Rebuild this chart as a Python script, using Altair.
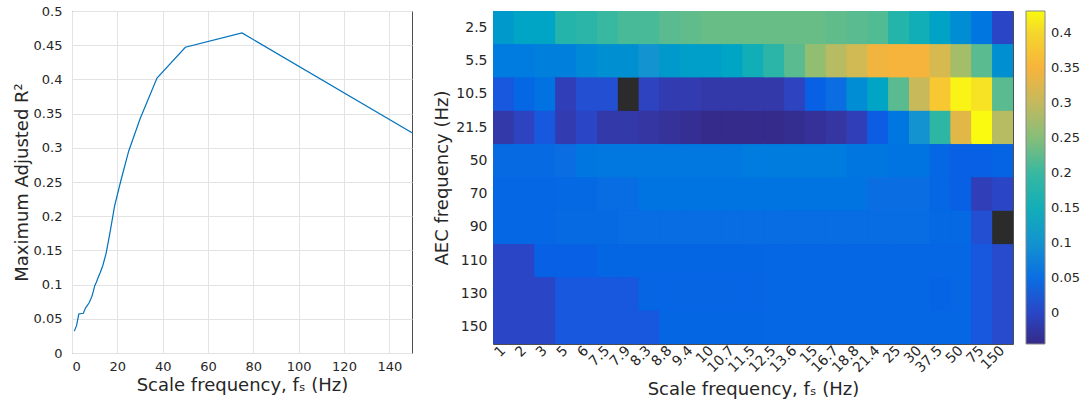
import altair as alt
import pandas as pd

FONT = "DejaVu Sans"
TXT = "#262626"

# ---- left panel: maximum adjusted R^2 vs scale frequency ----
line_f = [1, 2, 3, 5, 6, 7.5, 7.9, 8.3, 8.8, 9.4, 10, 10.7, 11.5, 12.5, 13.6,
          15, 16.7, 18.8, 21.4, 25, 30, 37.5, 50, 75, 150]
line_r2 = [0.032, 0.040, 0.057, 0.058, 0.066, 0.073, 0.076, 0.079, 0.083, 0.090,
           0.098, 0.103, 0.110, 0.118, 0.128, 0.145, 0.175, 0.215, 0.250, 0.295,
           0.342, 0.402, 0.447, 0.468, 0.322]

# ---- right panel: heatmap ----
heat_cols = ["1", "2", "3", "5", "6", "7.5", "7.9", "8.3", "8.8", "9.4", "10", "10.7",
             "11.5", "12.5", "13.6", "15", "16.7", "18.8", "21.4", "25", "30", "37.5",
             "50", "75", "150"]
heat_rows = ["2.5", "5.5", "10.5", "21.5", "50", "70", "90", "110", "130", "150"]
N = None
heat_vals = [
    [0.11, 0.13, 0.13, 0.18, 0.185, 0.20, 0.21, 0.21, 0.22, 0.225, 0.23, 0.23, 0.23,
     0.23, 0.23, 0.23, 0.225, 0.22, 0.215, 0.18, 0.15, 0.125, 0.09, 0.06, 0.0],
    [0.065, 0.065, 0.07, 0.07, 0.085, 0.095, 0.095, 0.10, 0.11, 0.12, 0.12, 0.13, 0.15,
     0.185, 0.22, 0.26, 0.29, 0.315, 0.345, 0.35, 0.35, 0.32, 0.275, 0.22, 0.095],
    [0.02, 0.04, 0.055, -0.01, 0.01, 0.01, N, -0.005, -0.015, -0.015, -0.02, -0.02, -0.02,
     -0.02, -0.004, 0.03, 0.05, 0.09, 0.13, 0.22, 0.305, 0.38, 0.425, 0.41, 0.22],
    [-0.02, -0.005, 0.02, -0.015, 0.0, -0.02, -0.02, -0.025, -0.03, -0.035, -0.042, -0.042,
     -0.042, -0.042, -0.037, -0.032, -0.025, -0.01, 0.025, 0.06, 0.10, 0.19, 0.33, 0.43, 0.29],
    [0.045, 0.045, 0.045, 0.05, 0.06, 0.062, 0.062, 0.062, 0.062, 0.062, 0.062, 0.062, 0.066,
     0.066, 0.066, 0.066, 0.066, 0.06, 0.06, 0.057, 0.057, 0.04, 0.03, 0.03, 0.035],
    [0.04, 0.04, 0.04, 0.043, 0.043, 0.048, 0.048, 0.058, 0.058, 0.058, 0.058, 0.058, 0.058,
     0.058, 0.057, 0.057, 0.057, 0.057, 0.05, 0.05, 0.05, 0.04, 0.03, -0.01, 0.0],
    [0.04, 0.04, 0.04, 0.045, 0.045, 0.045, 0.047, 0.047, 0.047, 0.047, 0.047, 0.047, 0.047,
     0.047, 0.047, 0.047, 0.047, 0.047, 0.047, 0.047, 0.047, 0.042, 0.042, 0.01, N],
    [0.0, 0.0, 0.03, 0.03, 0.03, 0.038, 0.038, 0.038, 0.038, 0.038, 0.038, 0.038, 0.038,
     0.04, 0.04, 0.04, 0.04, 0.04, 0.04, 0.04, 0.04, 0.04, 0.04, 0.02, 0.005],
    [0.0, 0.0, 0.0, 0.02, 0.02, 0.02, 0.02, 0.037, 0.037, 0.037, 0.037, 0.037, 0.037,
     0.04, 0.04, 0.04, 0.04, 0.04, 0.04, 0.04, 0.04, 0.035, 0.04, 0.02, 0.005],
    [0.0, 0.0, 0.0, 0.02, 0.02, 0.02, 0.02, 0.02, 0.038, 0.038, 0.038, 0.038, 0.038,
     0.04, 0.04, 0.04, 0.04, 0.04, 0.04, 0.04, 0.04, 0.04, 0.04, 0.02, 0.005],
]

# colour bar (parula-like) stops
cb_stops = [-0.044, 0.0, 0.025, 0.05, 0.10, 0.15, 0.20, 0.25, 0.30, 0.35, 0.40, 0.431]
cb_colors = ["#352a87", "#2a46c6", "#0c5de4", "#0a6ee2", "#1393cf", "#12aeb8", "#38b8a0",
             "#86be79", "#c4b95e", "#f7b43c", "#f5d62c", "#f9fb0e"]
cb_ticks = [0, 0.05, 0.1, 0.15, 0.2, 0.25, 0.3, 0.35, 0.4]

line_df = pd.DataFrame({"f": line_f, "r2": line_r2})

recs = []
for r, row in zip(heat_rows, heat_vals):
    for c, v in zip(heat_cols, row):
        recs.append({"col": c, "row": r, "v": v})
heat_df = pd.DataFrame(recs)

left = alt.Chart(line_df).mark_line(color="#0072BD", strokeWidth=1.2).encode(
    x=alt.X("f:Q", scale=alt.Scale(domain=[0, 150], nice=False),
            axis=alt.Axis(values=[0, 20, 40, 60, 80, 100, 120, 140], grid=True, ticks=False,
                          domain=False, labelPadding=7, titlePadding=3,
                          title="Scale frequency, fₛ (Hz)")),
    y=alt.Y("r2:Q", scale=alt.Scale(domain=[0, 0.5], nice=False),
            axis=alt.Axis(values=[0, 0.05, 0.1, 0.15, 0.2, 0.25, 0.3, 0.35, 0.4, 0.45, 0.5],
                          format=".2~f", grid=True, ticks=False, domain=False,
                          labelPadding=10, titlePadding=2,
                          title="Maximum Adjusted R²")),
).properties(width=340, height=342)

xenc = alt.X("col:N", sort=heat_cols,
             axis=alt.Axis(labelAngle=315, labelAlign="right", labelBaseline="middle",
                           ticks=False, domain=False, labelPadding=4, titlePadding=6,
                           labelFontSize=14, title="Scale frequency, fₛ (Hz)"))
yenc = alt.Y("row:N", sort=heat_rows,
             axis=alt.Axis(ticks=False, domain=False, labelPadding=6, titlePadding=4,
                           labelFontSize=14, title="AEC frequency (Hz)"))

cscale = alt.Scale(domain=cb_stops, range=cb_colors)
cbar = alt.Legend(type="gradient", orient="right", direction="vertical",
                  gradientLength=333, gradientThickness=19,
                  values=cb_ticks, format=".2~f", title=None,
                  labelFontSize=13, labelColor=TXT, labelFont=FONT,
                  offset=12, labelOffset=6,
                  gradientStrokeColor="#888888", gradientStrokeWidth=1)
valid = alt.Chart(heat_df).transform_filter("isValid(datum.v)")

# slightly enlarged under-layer hides anti-aliasing seams between cells
under = valid.mark_rect(width=alt.RelativeBandSize(1.08), height=alt.RelativeBandSize(1.08),
                        clip=True).encode(
    x=xenc, y=yenc,
    color=alt.Color("v:Q", scale=cscale, legend=cbar),
)
cells = valid.mark_rect().encode(
    x=xenc, y=yenc,
    color=alt.Color("v:Q", scale=cscale, legend=cbar),
)
nan_cells = alt.Chart(heat_df).transform_filter("!isValid(datum.v)").mark_rect(
    color="#2b2b2b").encode(x=xenc, y=yenc)

right = alt.layer(under, cells, nan_cells).properties(width=520, height=333)

chart = alt.hconcat(left, right, spacing=81, bounds="flush").properties(
    padding={"left": 12, "top": 4, "right": 2, "bottom": 2}
).configure_axis(
    labelFont=FONT, titleFont=FONT, labelFontSize=13, titleFontSize=18,
    labelColor=TXT, titleColor=TXT, titleFontWeight="normal", gridColor="#e3e3e3",
).configure_view(stroke="#4d4d4d", strokeWidth=1)

chart.save("out.html", embed_options={"renderer": "svg", "actions": False})
